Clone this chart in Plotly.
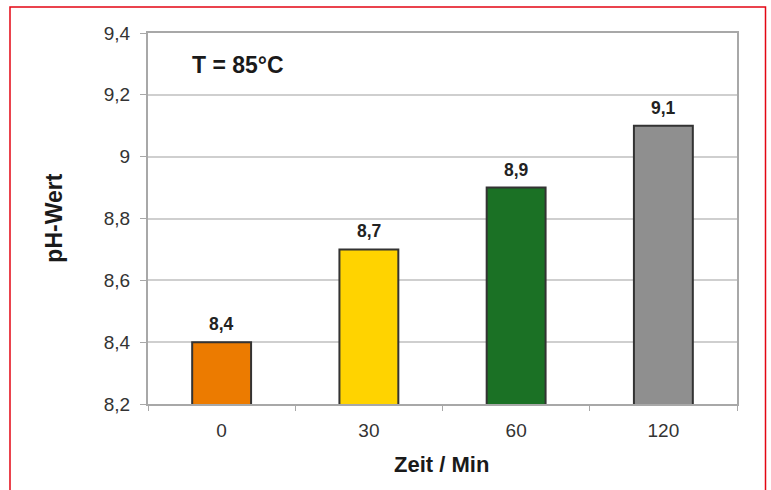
import plotly.graph_objects as go

categories = ["0", "30", "60", "120"]
ph_values = [8.4, 8.7, 8.9, 9.1]
value_labels = ["8,4", "8,7", "8,9", "9,1"]
bar_colors = ["#EC7B00", "#FFD300", "#1B7125", "#8F8F8F"]
y_tickvals = [8.2, 8.4, 8.6, 8.8, 9.0, 9.2, 9.4]
y_ticktext = ["8,2", "8,4", "8,6", "8,8", "9", "9,2", "9,4"]

FONT = "Liberation Sans, Arial, sans-serif"

fig = go.Figure()
fig.add_trace(go.Bar(
    x=categories,
    y=ph_values,
    marker=dict(color=bar_colors, line=dict(color="#333333", width=2)),
    showlegend=False,
    hoverinfo="skip",
))

annotations = []
for i, (v, t) in enumerate(zip(ph_values, value_labels)):
    annotations.append(dict(
        x=i, y=v, xref="x", yref="y", text=f"<b>{t}</b>", showarrow=False,
        yanchor="middle", yshift=18, font=dict(family=FONT, size=17.5, color="#222222"),
    ))

annotations.append(dict(
    x=0.1528, y=0.9137, xref="paper", yref="paper", text="<b>T = 85°C</b>",
    showarrow=False, xanchor="center", yanchor="middle",
    font=dict(family=FONT, size=23, color="#1a1a1a"),
))
annotations.append(dict(
    x=-0.161, y=0.5, xref="paper", yref="paper", text="<b>pH-Wert</b>",
    showarrow=False, textangle=-90, xanchor="center", yanchor="middle",
    font=dict(family=FONT, size=23, color="#1a1a1a"),
))
annotations.append(dict(
    x=0.4975, y=-0.162, xref="paper", yref="paper", text="<b>Zeit / Min</b>",
    showarrow=False, xanchor="center", yanchor="middle",
    font=dict(family=FONT, size=22, color="#1a1a1a"),
))

fig.update_layout(
    width=771, height=490,
    margin=dict(l=148, r=34, t=33, b=86),
    paper_bgcolor="white", plot_bgcolor="white",
    bargap=0.6,
    annotations=annotations,
    shapes=[dict(
        type="rect", xref="paper", yref="paper",
        x0=-0.2343, x1=1.0484, y0=-0.4, y1=1.0701,
        line=dict(color="#E30613", width=1.5), fillcolor="rgba(0,0,0,0)",
    )],
)
fig.update_xaxes(
    type="category", categoryorder="array", categoryarray=categories,
    range=[-0.5, 3.5], autorange=False,
    showline=True, mirror=True, linecolor="#a8a8a8", linewidth=2,
    ticks="outside", tickson="boundaries", ticklen=5, tickcolor="#a8a8a8",
    showgrid=False, ticklabelstandoff=8,
    tickfont=dict(family=FONT, size=19, color="#333333"),
)
fig.update_yaxes(
    range=[8.2, 9.4], tickvals=y_tickvals, ticktext=y_ticktext,
    showline=True, mirror=True, linecolor="#a8a8a8", linewidth=2,
    ticks="outside", ticklen=6, tickcolor="#a8a8a8",
    showgrid=True, gridcolor="#cfcfcf", gridwidth=1.5, zeroline=False,
    ticklabelstandoff=6,
    tickfont=dict(family=FONT, size=19, color="#333333"),
)

fig.write_html(
    "out.html",
    config={"displayModeBar": False},
    post_script="document.body.style.margin='0';document.body.style.overflow='hidden';",
)
